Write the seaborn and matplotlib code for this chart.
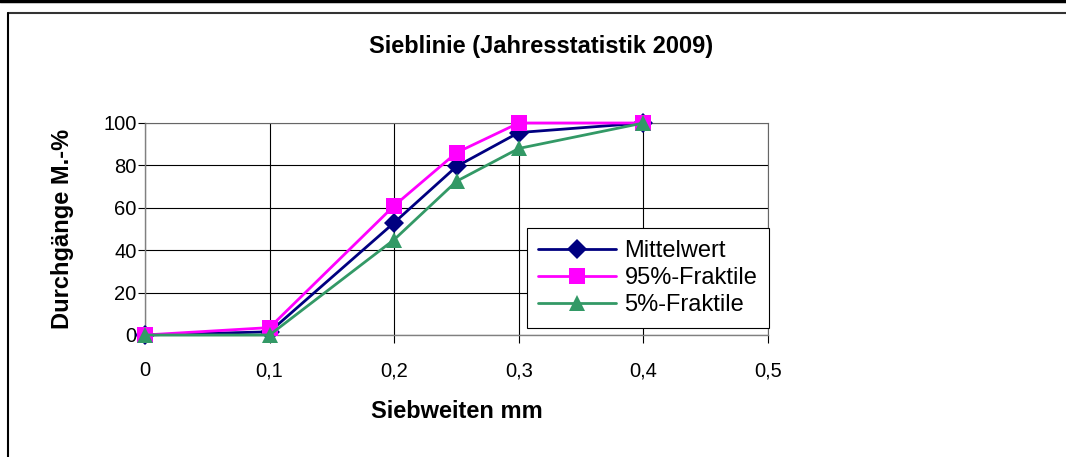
import matplotlib
matplotlib.use("Agg")
import matplotlib.pyplot as plt
from matplotlib.lines import Line2D
import seaborn as sns
import pandas as pd

# sieve sizes (mm) and passing percentages
siebweiten = [0.0, 0.1, 0.2, 0.25, 0.3, 0.4]
mittelwert = [0.0, 1.5, 53, 79.5, 95.5, 100]
fraktile_95 = [0.0, 3.5, 61, 86, 100, 100]
fraktile_5 = [0.0, 0.0, 45, 72.5, 88, 100]

series_names = ["Mittelwert", "95%-Fraktile", "5%-Fraktile"]
x_ticks = [0, 0.1, 0.2, 0.3, 0.4, 0.5]
x_tick_labels = ["0", "0,1", "0,2", "0,3", "0,4", "0,5"]
y_ticks = [0, 20, 40, 60, 80, 100]

df = pd.DataFrame({
    "x": siebweiten * 3,
    "y": mittelwert + fraktile_95 + fraktile_5,
    "serie": [n for n in series_names for _ in siebweiten],
})

sns.set_style("white")
plt.rcParams["font.family"] = ["Liberation Sans", "DejaVu Sans"]
plt.rcParams.update({"text.color": "black", "axes.labelcolor": "black",
                     "xtick.color": "black", "ytick.color": "black"})

fig = plt.figure(figsize=(10.66, 4.57), dpi=100)
W, H = 1066, 457
ax = fig.add_axes([145 / W, 1 - 335 / H, 623 / W, 212 / H])

palette = {"Mittelwert": "#000080", "95%-Fraktile": "#FF00FF", "5%-Fraktile": "#339966"}
markers = {"Mittelwert": "D", "95%-Fraktile": "s", "5%-Fraktile": "^"}

sns.lineplot(
    data=df, x="x", y="y", hue="serie", style="serie",
    hue_order=series_names, style_order=series_names,
    palette=palette, markers=markers, dashes=False,
    linewidth=2, markersize=12, markeredgewidth=0,
    ax=ax, zorder=3, clip_on=False,
)
for line in ax.lines:
    line.set_clip_on(False)
    if line.get_marker() == "D":
        line.set_markersize(10)

ax.set_xlim(0, 0.5)
ax.set_ylim(0, 100)
ax.set_xticks(x_ticks)
ax.set_xticklabels(x_tick_labels)
ax.set_yticks(y_ticks)
ax.grid(True, color="black", linewidth=0.8)
ax.set_axisbelow(True)
for side in ["top", "right"]:
    ax.spines[side].set_color("#666666")
    ax.spines[side].set_linewidth(0.8)
for side in ["left", "bottom"]:
    ax.spines[side].set_color("#808080")
    ax.spines[side].set_linewidth(1.0)
ax.tick_params(axis="x", direction="out", length=6, width=0.8, color="black",
               labelcolor="black", labelsize=14.5, pad=13, bottom=True)
ax.tick_params(axis="y", direction="out", length=5, width=0.8, color="black",
               labelcolor="black", labelsize=14.5, pad=1, left=True)

ax.set_xlabel("Siebweiten mm", fontsize=17, fontweight="bold", labelpad=14)
ax.set_ylabel("Durchgänge M.-%", fontsize=17, fontweight="bold", labelpad=21)

leg = ax.legend(
    loc="lower right", bbox_to_anchor=(1.002, 0.033), frameon=True, fancybox=False,
    edgecolor="black", framealpha=1, fontsize=17, handlelength=3.3,
    borderpad=0.5, labelspacing=0.22, handletextpad=0.35, borderaxespad=0,
)
leg.get_frame().set_linewidth(0.8)
leg.set_title(None)
for h in leg.legend_handles:
    h.set_clip_on(False)
    h.set_linewidth(2)
    h.set_markeredgewidth(0)
    h.set_markersize(10 if h.get_marker() == "D" else 12)

fig.text(541 / W, 1 - 46 / H, "Sieblinie (Jahresstatistik 2009)", fontsize=17,
         fontweight="bold", ha="center", va="center")

# outer frame like the spreadsheet chart border
fig.add_artist(Line2D([0, 1], [1 - 1 / H, 1 - 1 / H], color="black", linewidth=2.5,
                      transform=fig.transFigure))
fig.add_artist(Line2D([8 / W, 1], [1 - 13 / H, 1 - 13 / H], color="#333333", linewidth=1.5,
                      transform=fig.transFigure))
fig.add_artist(Line2D([8 / W, 8 / W], [0, 1 - 13 / H], color="black", linewidth=1.5,
                      transform=fig.transFigure))

fig.savefig("out.png", dpi=100)
